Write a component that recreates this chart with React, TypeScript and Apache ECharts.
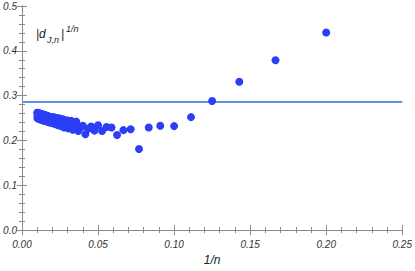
import React, { useEffect, useRef } from "react";
import * as echarts from "echarts";

// n values (x = 1/n)
const nValues = [
  5, 6, 7, 8, 9, 10, 11, 12, 13, 14, 15, 16, 17, 18, 19, 20, 21, 22, 23, 24, 25,
  26, 27, 28, 29, 30, 31, 32, 33, 34, 35, 36, 37, 38, 39, 40, 41, 42, 43, 44, 45,
  46, 47, 48, 49, 50, 51, 52, 53, 54, 55, 56, 57, 58, 59, 60, 61, 62, 63, 64, 65,
  66, 67, 68, 69, 70, 71, 72, 73, 74, 75, 76, 77, 78, 79, 80, 81, 82, 83, 84, 85,
  86, 87, 88, 89, 90, 91, 92, 93, 94, 95, 96, 97, 98, 99, 100,
];
// |d_{J,n}|^{1/n}
const dValues = [
  0.441, 0.379, 0.331, 0.288, 0.252, 0.232, 0.233, 0.229, 0.181, 0.225, 0.223, 0.212, 0.229, 0.23, 0.221, 0.234, 0.222, 0.231, 0.226, 0.214, 0.233,
  0.229, 0.221, 0.242, 0.233, 0.224, 0.244, 0.235, 0.227, 0.245, 0.237, 0.229, 0.247, 0.239, 0.232, 0.249, 0.241, 0.234, 0.25, 0.243, 0.236,
  0.251, 0.244, 0.238, 0.252, 0.246, 0.239, 0.252, 0.247, 0.24, 0.253, 0.248, 0.241, 0.254, 0.249, 0.242, 0.255, 0.25, 0.243, 0.256, 0.25,
  0.244, 0.257, 0.251, 0.244, 0.257, 0.252, 0.245, 0.258, 0.252, 0.246, 0.258, 0.253, 0.246, 0.259, 0.253, 0.247, 0.259, 0.254, 0.247, 0.26,
  0.254, 0.248, 0.26, 0.255, 0.249, 0.261, 0.255, 0.249, 0.261, 0.256, 0.25, 0.262, 0.256, 0.25, 0.262,
];
const refLevel = 0.286;
const xRange = [0, 0.25];
const yRange = [0, 0.5];

const FONT = "Liberation Sans";
const AXIS_COLOR = "#8a8a8a";

export default function App() {
  const ref = useRef<HTMLDivElement>(null);
  useEffect(() => {
    if (!ref.current) return;
    document.body.style.margin = "0";
    const chart = echarts.init(ref.current, null, { renderer: "svg" });
    const points = nValues.map((n, i) => [1 / n, dValues[i]]);
    const tickCommon = {
      axisLine: { show: true, lineStyle: { color: AXIS_COLOR, width: 1 } },
      axisTick: { show: true, inside: true, length: 5, lineStyle: { color: AXIS_COLOR } },
      minorTick: { show: true, splitNumber: 5, length: 3, lineStyle: { color: AXIS_COLOR } },
      splitLine: { show: false },
      minorSplitLine: { show: false },
    };
    const labelStyle = {
      fontFamily: FONT,
      fontStyle: "italic" as const,
      fontSize: 10,
      color: "#333",
    };
    chart.setOption({
      animation: false,
      grid: { left: 22, right: 10, top: 6, bottom: 28, containLabel: false },
      xAxis: [
        {
          type: "value",
          min: xRange[0],
          max: xRange[1],
          interval: 0.05,
          position: "bottom",
          name: "1/n",
          nameLocation: "middle",
          nameGap: 18,
          nameTextStyle: { fontFamily: FONT, fontStyle: "italic", fontSize: 12, color: "#222" },
          axisLabel: { ...labelStyle, margin: 9, showMaxLabel: true, formatter: (v: number) => v.toFixed(2) },
          ...tickCommon,
        },
        {
          type: "value",
          min: xRange[0],
          max: xRange[1],
          interval: 0.05,
          position: "top",
          axisLabel: { show: false },
          ...tickCommon,
        },
      ],
      yAxis: [
        {
          type: "value",
          min: yRange[0],
          max: yRange[1],
          interval: 0.1,
          position: "left",
          axisLabel: { ...labelStyle, margin: 5, formatter: (v: number) => v.toFixed(1) },
          ...tickCommon,
        },
        {
          type: "value",
          min: yRange[0],
          max: yRange[1],
          interval: 0.1,
          position: "right",
          axisLabel: { show: false },
          ...tickCommon,
        },
      ],
      series: [
        {
          type: "line",
          data: [
            [xRange[0], refLevel],
            [xRange[1], refLevel],
          ],
          symbol: "none",
          lineStyle: { color: "#5f95e6", width: 2 },
          z: 1,
          silent: true,
        },
        {
          type: "scatter",
          data: points,
          symbolSize: 8,
          itemStyle: { color: "#2a3ff5", opacity: 1 },
          z: 3,
        },
      ],
      graphic: [
        {
          type: "text",
          left: 36,
          top: 28,
          style: { text: "|d", fontFamily: FONT, fontStyle: "italic", fontSize: 12, fill: "#222" },
        },
        {
          type: "text",
          left: 47,
          top: 35,
          style: { text: "J,n", fontFamily: FONT, fontStyle: "italic", fontSize: 9, fill: "#222" },
        },
        {
          type: "text",
          left: 61,
          top: 28,
          style: { text: "|", fontFamily: FONT, fontStyle: "italic", fontSize: 12, fill: "#222" },
        },
        {
          type: "text",
          left: 66,
          top: 24,
          style: { text: "1/n", fontFamily: FONT, fontStyle: "italic", fontSize: 9, fill: "#222" },
        },
      ],
    });
    return () => chart.dispose();
  }, []);
  return <div ref={ref} style={{ width: 415, height: 271 }} />;
}
